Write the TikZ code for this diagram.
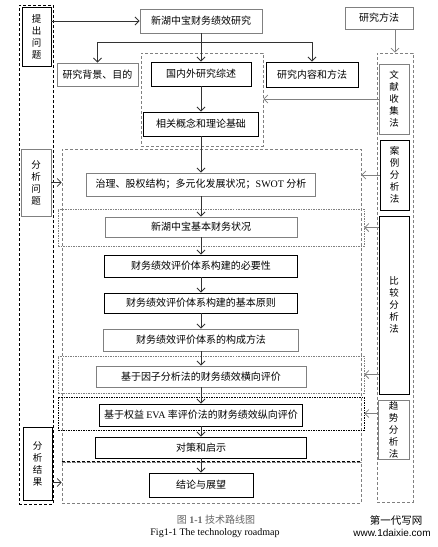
\documentclass[tikz,border=0pt]{standalone}
\usepackage{fontspec}
\setmainfont{Liberation Serif}
\setsansfont{Liberation Sans}
\newfontfamily\cjk{Noto Sans CJK SC}
\usetikzlibrary{arrows.meta}
\definecolor{gline}{HTML}{808080}
\tikzset{
 gbox/.style={draw=gline, line width=0.9pt, inner sep=0pt, font=\cjk\fontsize{10}{12}\selectfont},
 kbox/.style={draw=black, line width=0.9pt, inner sep=0pt, font=\cjk\fontsize{10}{12}\selectfont},
 vtext/.style={align=center, font=\cjk\fontsize{9.5}{12}\selectfont},
 frame/.style={inner sep=0pt, draw=gline, line width=0.6pt, dash pattern=on 3pt off 2pt},
 kframe/.style={inner sep=0pt, draw=black, line width=0.7pt, dash pattern=on 3pt off 2pt},
 dotframe/.style={inner sep=0pt, draw=gline, line width=0.5pt, dash pattern=on 1.5pt off 1pt},
 kdotframe/.style={inner sep=0pt, draw=black, line width=0.6pt, dash pattern=on 1.5pt off 1pt},
 arr/.style={-{Straight Barb[length=4pt,width=8pt]}, line width=0.8pt, draw=black!80},
 garr/.style={arr, draw=gline},
}
\begin{document}
\begin{tikzpicture}[x=1pt,y=-1pt]
\useasboundingbox (0,0) rectangle (438,547);
% frames
\node[kframe, minimum width=34pt, minimum height=499pt] (Lcol) at (36,254.5) {};
\node[frame, minimum width=36pt, minimum height=449pt] (Rcol) at (395,277.5) {};
\node[frame, minimum width=122pt, minimum height=93pt] (f1) at (202,99.5) {};
\node[frame, minimum width=299pt, minimum height=313pt] (bigA) at (211.5,305.5) {};
\node[frame, minimum width=299pt, minimum height=41pt] (bigB) at (211.5,482.5) {};
\draw[kframe] (bigB.north west) -- (bigB.north east);
\node[dotframe, minimum width=306pt, minimum height=37pt] (fjb) at (211,227.5) {};
\node[dotframe, minimum width=306pt, minimum height=37pt] (fhx) at (211,374.5) {};
\node[kdotframe, minimum width=306pt, minimum height=33pt] (fzx) at (211,413.5) {};
% top
\node[gbox, minimum width=122pt, minimum height=24pt] (b1) at (201,21) {新湖中宝财务绩效研究};
\node[gbox, minimum width=68pt, minimum height=22pt] (ff) at (379,18) {研究方法};
\node[gbox, minimum width=81pt, minimum height=23pt] (bg) at (97.5,74.5) {研究背景、目的};
\node[kbox, minimum width=100pt, minimum height=24pt] (gn) at (201,74) {国内外研究综述};
\node[kbox, minimum width=92pt, minimum height=25pt] (nr) at (312,74.5) {研究内容和方法};
\node[kbox, minimum width=115pt, minimum height=24pt] (xg) at (201,124) {相关概念和理论基础};
% chain
\node[gbox, minimum width=229pt, minimum height=23pt] (zl) at (201,184.5) {治理、股权结构；多元化发展状况；{\rmfamily SWOT} 分析};
\node[gbox, minimum width=192pt, minimum height=20pt] (jb) at (201,227) {新湖中宝基本财务状况};
\node[kbox, minimum width=193pt, minimum height=22pt] (by) at (201,266) {财务绩效评价体系构建的必要性};
\node[kbox, minimum width=193pt, minimum height=20pt] (yz) at (201,303) {财务绩效评价体系构建的基本原则};
\node[gbox, minimum width=195pt, minimum height=22pt] (gc) at (201,340) {财务绩效评价体系的构成方法};
\node[gbox, minimum width=210pt, minimum height=21pt] (hx) at (201,376.5) {基于因子分析法的财务绩效横向评价};
\node[kbox, minimum width=203pt, minimum height=22pt] (zx) at (201,415) {基于权益 {\rmfamily EVA} 率评价法的财务绩效纵向评价};
\node[kbox, minimum width=211pt, minimum height=21pt] (dc) at (201,447.5) {对策和启示};
\node[kbox, minimum width=104pt, minimum height=24pt] (jl) at (201,485) {结论与展望};
% left column
\node[kbox, vtext, minimum width=29pt, minimum height=59pt] (L1) at (36.5,36.5) {提\\出\\问\\题};
\node[gbox, vtext, minimum width=30pt, minimum height=67pt] (L2) at (36,182.5) {分\\析\\问\\题};
\node[kbox, vtext, minimum width=29pt, minimum height=73pt] (L3) at (37.5,463.5) {分\\析\\结\\果};
% right column
\node[gbox, vtext, minimum width=30pt, minimum height=70pt] (R1) at (394,99) {文\\献\\收\\集\\法};
\node[kbox, vtext, minimum width=29pt, minimum height=70pt] (R2) at (394.5,175) {案\\例\\分\\析\\法};
\node[kbox, vtext, minimum width=30pt, minimum height=178pt] (R3) at (394,305) {比\\较\\分\\析\\法};
\node[gbox, vtext, minimum width=31pt, minimum height=59pt] (R4) at (393.5,429.5) {趋\\势\\分\\析\\法};
% connectors
\coordinate (br) at (201,42);
\draw[arr] (L1.east |- b1.west) -- (b1.west);
\draw[arr] (b1.south) -- (gn.north);
\draw[line width=0.8pt, black!80] (bg.north |- br) -- (nr.north |- br);
\draw[arr] (bg.north |- br) -- (bg.north);
\draw[arr] (nr.north |- br) -- (nr.north);
\draw[arr] (gn.south) -- (xg.north);
\draw[arr] (xg.south) -- (zl.north);
\draw[arr] (zl.south) -- (jb.north);
\draw[arr] (jb.south) -- (by.north);
\draw[arr] (by.south) -- (yz.north);
\draw[arr] (yz.south) -- (gc.north);
\draw[arr] (gc.south) -- (hx.north);
\draw[arr] (hx.south) -- (zx.north);
\draw[arr] (zx.south) -- (dc.north);
\draw[arr] (dc.south) -- (jl.north);
\draw[garr] (ff.south -| Rcol.north) -- (Rcol.north);
\draw[garr] (R1.west) -- (R1.west -| f1.east);
\draw[garr] (R2.west) -- (R2.west -| bigA.east);
\draw[garr] (R3.west |- fjb.east) -- (fjb.east);
\draw[garr] (R3.west |- fhx.east) -- (fhx.east);
\draw[garr] (R4.west |- fzx.east) -- (fzx.east);
\draw[arr] (L2.east) -- (L2.east -| bigA.west);
\draw[arr] (L3.east |- bigB.west) -- (bigB.west);
% captions
\node[text=black!60, font=\fontsize{10}{12}\selectfont] (cap1) at (216,520) {{\cjk 图} \textbf{1-1} {\cjk 技术路线图}};
\node[font=\fontsize{10}{12}\selectfont] (cap2) at (215,533) {Fig1-1 The technology roadmap};
\node[font=\cjk\fontsize{10.5}{12}\selectfont] (wm1) at (396,520) {第一代写网};
\node[font=\sffamily\fontsize{10}{12}\selectfont] (wm2) at (392,533) {www.1daixie.com};
\end{tikzpicture}
\end{document}
